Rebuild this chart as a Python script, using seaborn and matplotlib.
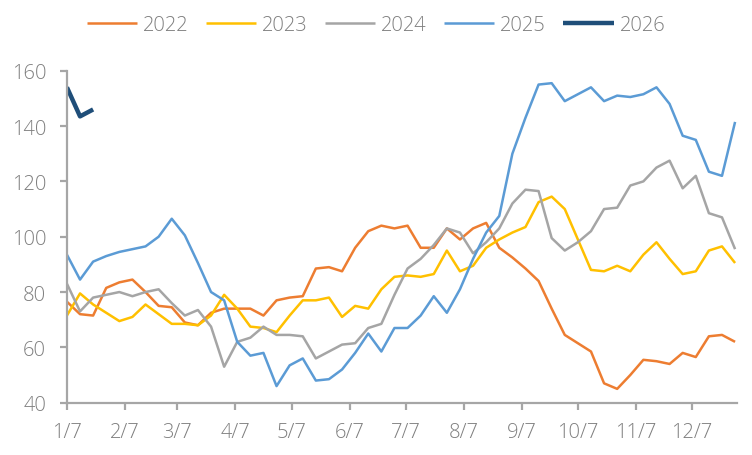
import numpy as np
import pandas as pd
import matplotlib
matplotlib.use("Agg")
import matplotlib.pyplot as plt
import seaborn as sns

# ---- data (weekly, starting 1/7) ----
v2022 = [76.5, 72, 71.5, 81.5, 83.5, 84.5, 80, 75, 74.5, 69, 68, 72.5, 74,
         74, 74, 71.5, 77, 78, 78.5, 88.5, 89, 87.5, 96, 102, 104, 103,
         104, 96, 96, 103, 99, 103, 105, 96, 92.5, 88.5, 84, 74, 64.5, 61.5,
         58.5, 47, 45, 50, 55.5, 55, 54, 58, 56.5, 64, 64.5, 62]
v2023 = [71.5, 79.5, 75.5, 72.5, 69.5, 71, 75.5, 72, 68.5, 68.5, 68, 71.5, 79,
         74, 67.5, 67, 65.5, 71.5, 77, 77, 78, 71, 75, 74, 81, 85.5,
         86, 85.5, 86.5, 95, 87.5, 89.5, 96, 99, 101.5, 103.5, 112.5, 114.5, 110, 99,
         88, 87.5, 89.5, 87.5, 93.5, 98, 92, 86.5, 87.5, 95, 96.5, 90.5]
v2024 = [83, 73, 78, 79, 80, 78.5, 80, 81, 76, 71.5, 73.5, 67.5, 53,
         62, 63.5, 67.5, 64.5, 64.5, 64, 56, 58.5, 61, 61.5, 67, 68.5, 79,
         88.5, 92, 97, 103, 101.5, 94, 98, 103, 112, 117, 116.5, 99.5, 95, 98,
         102, 110, 110.5, 118.5, 120, 125, 127.5, 117.5, 122, 108.5, 107, 95.5]
v2025 = [93.5, 84.5, 91, 93, 94.5, 95.5, 96.5, 100, 106.5, 100.5, 90.5, 80, 77,
         62, 57, 58, 46, 53.5, 56, 48, 48.5, 52, 58, 65, 58.5, 67,
         67, 71.5, 78.5, 72.5, 81, 92, 101.5, 107.5, 130, 143, 155, 155.5, 149, 151.5,
         154, 149, 151, 150.5, 151.5, 154, 148, 136.5, 135, 123.5, 122, 141.5]
v2026 = [154, 143.5, 146]

years = ["2022", "2023", "2024", "2025", "2026"]
series = [v2022, v2023, v2024, v2025, v2026]
colors = ["#ED7D31", "#FFC000", "#A5A5A5", "#5B9BD5", "#1F4E79"]
widths = [1.8, 1.8, 1.8, 1.8, 3.2]

month_ticks = list(range(1, 13))
tick_labels = [f"{m}/7" for m in month_ticks]

start = pd.Timestamp("2025-01-07")

sns.set_theme(style="white")
plt.rcParams["font.family"] = ["Open Sans", "DejaVu Sans"]
plt.rcParams["font.weight"] = "light"

fig = plt.figure(figsize=(7.52, 4.56), dpi=100)
ax = fig.add_axes([0.089, 0.1147, 0.891, 0.728])

for yr, vals, c, lw in zip(years, series, colors, widths):
    dates = start + pd.to_timedelta(np.arange(len(vals)) * 7, unit="D")
    df = pd.DataFrame({"date": dates, "value": vals})
    sns.lineplot(data=df, x="date", y="value", color=c, linewidth=lw,
                 label=yr, ax=ax, solid_capstyle="butt")

ax.set_ylim(40, 160)
ax.set_yticks([40, 60, 80, 100, 120, 140, 160])
ax.set_xlim(start, start + pd.Timedelta(days=358))
ax.set_xticks([pd.Timestamp(2025, m, 7) for m in month_ticks])
ax.set_xticklabels(tick_labels)
ax.set_xlabel("")
ax.set_ylabel("")

axis_col = "#A6A6A6"
text_col = "#7F7F7F"
for s in ["top", "right"]:
    ax.spines[s].set_visible(False)
for s in ["left", "bottom"]:
    ax.spines[s].set_color(axis_col)
    ax.spines[s].set_linewidth(1.6)
ax.tick_params(axis="both", which="major", length=5, width=1.6, color=axis_col,
               labelsize=14.5, labelcolor=text_col, direction="out")
ax.tick_params(axis="x", pad=9)
ax.tick_params(axis="y", pad=10)
ax.tick_params(bottom=True, left=True)

handles, labels = ax.get_legend_handles_labels()
ax.legend(handles, labels, loc="upper center", bbox_to_anchor=(0.5, 1.0),
          bbox_transform=fig.transFigure, ncol=5, frameon=False,
          fontsize=14.5, labelcolor=text_col, handlelength=2.5,
          handletextpad=0.3, columnspacing=0.85, borderaxespad=0.4)

fig.savefig("out.png", dpi=100)
